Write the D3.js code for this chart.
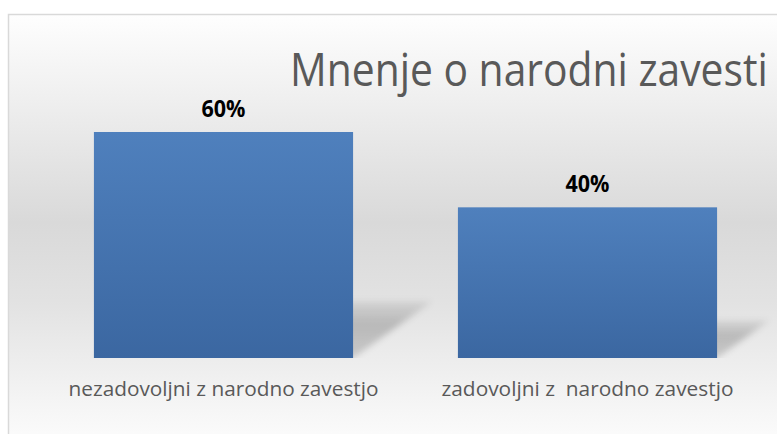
<!DOCTYPE html>
<html>
<head>
<meta charset="utf-8">
<script src="https://cdnjs.cloudflare.com/ajax/libs/d3/7.8.5/d3.min.js"></script>
<style>
  body { margin: 0; background: #ffffff; }
  svg { display: block; }
</style>
</head>
<body>
<div id="chart"></div>
<script>
const categories = ['nezadovoljni z narodno zavestjo', 'zadovoljni z  narodno zavestjo'];
const values = [60, 40];
const valueLabels = ['60%', '40%'];
const title = 'Mnenje o narodni zavesti';

const width = 777;
const height = 434;
const baseline = 358;
const top60 = 132;

const svg = d3.select('#chart')
  .append('svg')
  .attr('width', width)
  .attr('height', height);

const defs = svg.append('defs');

// chart area background, light grey band in the middle
const bg = defs.append('linearGradient')
  .attr('id', 'bg')
  .attr('x1', 0).attr('y1', 0).attr('x2', 0).attr('y2', 1);
bg.append('stop').attr('offset', '0%').attr('stop-color', '#fefefe');
bg.append('stop').attr('offset', '48%').attr('stop-color', '#d9d9d9');
bg.append('stop').attr('offset', '66%').attr('stop-color', '#e2e2e2');
bg.append('stop').attr('offset', '100%').attr('stop-color', '#fdfdfd');

const barGrad = defs.append('linearGradient')
  .attr('id', 'bar')
  .attr('x1', 0).attr('y1', 0).attr('x2', 0).attr('y2', 1);
barGrad.append('stop').attr('offset', '0%').attr('stop-color', '#4f80bd');
barGrad.append('stop').attr('offset', '100%').attr('stop-color', '#3b67a1');

const shadowGrad = defs.append('linearGradient')
  .attr('id', 'shade')
  .attr('x1', 0).attr('y1', 1).attr('x2', 0).attr('y2', 0);
shadowGrad.append('stop').attr('offset', '0%').attr('stop-color', '#000').attr('stop-opacity', 0.15);
shadowGrad.append('stop').attr('offset', '60%').attr('stop-color', '#000').attr('stop-opacity', 0.2);
shadowGrad.append('stop').attr('offset', '100%').attr('stop-color', '#000').attr('stop-opacity', 0.07);

defs.append('filter')
  .attr('id', 'blur')
  .attr('x', '-20%').attr('y', '-20%').attr('width', '140%').attr('height', '140%')
  .append('feGaussianBlur')
  .attr('stdDeviation', 3);

defs.append('clipPath')
  .attr('id', 'aboveBase')
  .append('rect')
  .attr('x', 0).attr('y', 0).attr('width', width).attr('height', baseline);

svg.append('rect')
  .attr('x', 8.5)
  .attr('y', 14.5)
  .attr('width', width)
  .attr('height', height)
  .attr('fill', 'url(#bg)')
  .attr('stroke', '#d9d9d9')
  .attr('stroke-width', 1.5);

const x = d3.scaleBand()
  .domain(categories)
  .range([41.5, 769.5])
  .paddingInner(0.288)
  .paddingOuter(0.144);

const y = d3.scaleLinear()
  .domain([0, 60])
  .range([baseline, top60]);

// perspective shadow cast back to the right of each bar
svg.append('g')
  .attr('clip-path', 'url(#aboveBase)')
  .selectAll('path.shadow')
  .data(values)
  .enter()
  .append('path')
  .attr('class', 'shadow')
  .attr('d', (d, i) => {
    const h = y(0) - y(d);
    const xl = x(categories[i]);
    const xr = xl + x.bandwidth();
    const dx = h * 0.35;
    const dy = h * 0.25;
    return 'M' + xl + ',' + baseline +
      'L' + xr + ',' + baseline +
      'L' + (xr + dx) + ',' + (baseline - dy) +
      'L' + (xl + dx) + ',' + (baseline - dy) + 'Z';
  })
  .attr('fill', 'url(#shade)')
  .attr('filter', 'url(#blur)');

svg.selectAll('rect.bar')
  .data(values)
  .enter()
  .append('rect')
  .attr('class', 'bar')
  .attr('x', (d, i) => x(categories[i]))
  .attr('y', (d) => y(d))
  .attr('width', x.bandwidth())
  .attr('height', (d) => y(0) - y(d))
  .attr('fill', 'url(#bar)');

svg.selectAll('text.value')
  .data(values)
  .enter()
  .append('text')
  .attr('class', 'value')
  .text((d, i) => valueLabels[i])
  .attr('x', (d, i) => x(categories[i]) + x.bandwidth() / 2)
  .attr('y', (d) => y(d) - 15)
  .attr('text-anchor', 'middle')
  .attr('font-family', 'Open Sans, sans-serif')
  .attr('font-weight', 'bold')
  .attr('font-size', '23px')
  .attr('textLength', 44)
  .attr('lengthAdjust', 'spacingAndGlyphs')
  .attr('fill', '#000000');

svg.selectAll('text.category')
  .data(categories)
  .enter()
  .append('text')
  .attr('class', 'category')
  .text((d) => d)
  .style('white-space', 'pre')
  .attr('x', (d) => x(d) + x.bandwidth() / 2)
  .attr('y', 396)
  .attr('text-anchor', 'middle')
  .attr('font-family', 'Open Sans, sans-serif')
  .attr('font-size', '20px')
  .attr('textLength', (d, i) => i === 0 ? 310 : 292)
  .attr('lengthAdjust', 'spacingAndGlyphs')
  .attr('fill', '#595959');

// title is narrower than Open Sans, so squeeze it horizontally to fit
const titleG = svg.append('g');
const titleText = titleG.append('text')
  .text(title)
  .attr('x', 0)
  .attr('y', 0)
  .attr('font-family', 'Open Sans, sans-serif')
  .attr('font-size', '46px')
  .attr('fill', '#595959');
const titleLen = titleText.node().getComputedTextLength();
titleG.attr('transform', 'translate(290,86) scale(' + (478 / titleLen) + ',1)');
</script>
</body>
</html>
